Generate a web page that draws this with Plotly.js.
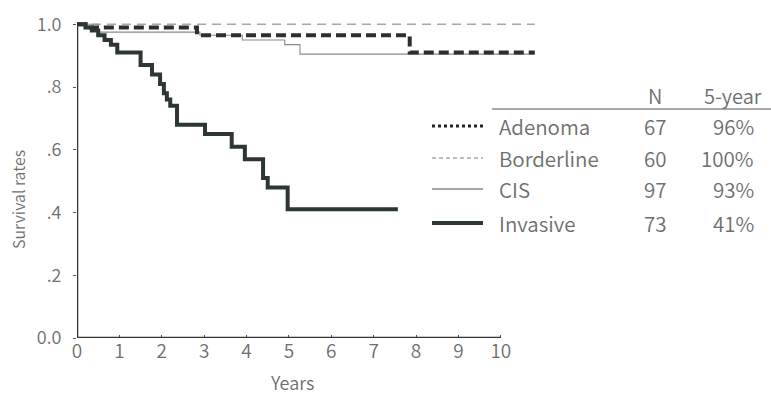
<!DOCTYPE html>
<html>
<head>
<meta charset="utf-8">
<script src="https://cdn.plot.ly/plotly-3.0.1.min.js"></script>
<style>html,body{margin:0;padding:0;background:#fff}#chart{width:771px;height:397px}</style>
</head>
<body>
<div id="chart"></div>
<script>
// ---- data ----
var groups = ["Adenoma", "Borderline", "CIS", "Invasive"];
var groupN = [67, 60, 97, 73];
var fiveYear = ["96%", "100%", "93%", "41%"];

var adenomaX = [0, 0.2, 2.83, 7.85, 10.8];
var adenomaY = [1.0, 0.99, 0.965, 0.91, 0.91];

var borderlineX = [0, 10.8];
var borderlineY = [1.0, 1.0];

var cisX = [0, 0.5, 2.9, 3.9, 4.9, 5.26, 10.8];
var cisY = [1.0, 0.975, 0.965, 0.95, 0.935, 0.905, 0.905];

var invasiveX = [0, 0.2, 0.35, 0.5, 0.65, 0.8, 0.95, 1.5, 1.77, 1.96, 2.05, 2.12, 2.2, 2.36, 3.02, 3.65, 3.96, 4.39, 4.5, 4.97, 7.57];
var invasiveY = [1.0, 0.99, 0.98, 0.965, 0.95, 0.935, 0.91, 0.87, 0.84, 0.81, 0.78, 0.76, 0.74, 0.68, 0.65, 0.61, 0.57, 0.51, 0.48, 0.41, 0.41];

var xTicks = [0, 1, 2, 3, 4, 5, 6, 7, 8, 9, 10];
var yTicks = [0, 0.2, 0.4, 0.6, 0.8, 1.0];
var yTickText = ["0.0", ".2", ".4", ".6", ".8", "1.0"];

// ---- styles ----
var FONT = "Noto Sans CJK JP, Noto Sans, sans-serif";
var TXT = "#6e6e6e";
var W = 350;
var styles = [
  {color: "#2e2e2e", width: 4, dash: "10px,5px"},
  {color: "#a8a8a8", width: 1.3, dash: "9px,6px"},
  {color: "#8a8a8a", width: 1.1, dash: "solid"},
  {color: "#2c3634", width: 4, dash: "solid"}
];
var legendStyles = [
  {color: "#222", width: 3, dash: "3px,3px"},
  {color: "#a8a8a8", width: 1.3, dash: "4px,3px"},
  {color: "#8a8a8a", width: 1.3, dash: "solid"},
  {color: "#2c3634", width: 4, dash: "solid"}
];
var xs = [adenomaX, borderlineX, cisX, invasiveX];
var ys = [adenomaY, borderlineY, cisY, invasiveY];

var traces = [];
[1, 2, 0, 3].forEach(function (i) {
  traces.push({
    x: xs[i], y: ys[i], type: "scatter", mode: "lines",
    line: {shape: "hv", color: styles[i].color, width: styles[i].width, dash: styles[i].dash},
    name: groups[i], hoverinfo: "skip"
  });
});

var L = 77, R = 539, B = 338, T = 18;
function px(x) { return (x - L) / (R - L); }
function py(y) { return (B - y) / (B - T); }

var shapes = [
  {type: "line", xref: "x", yref: "y", x0: 0, x1: 10, y0: 0, y1: 0, line: {color: "#333", width: 2.5}},
  {type: "line", xref: "x", yref: "y", x0: 0, x1: 0, y0: 0, y1: 1.0, line: {color: "#333", width: 2.5}},
  {type: "line", xref: "paper", yref: "paper", x0: px(492), x1: px(771), y0: py(109), y1: py(109), line: {color: "#555", width: 1}}
];
var rowY = [126, 158, 189, 223];
var annotations = [
  {text: "N", x: px(655), y: py(95), size: 20},
  {text: "5-year", x: px(733), y: py(95), size: 20},
  {text: "Years", x: px(292), y: py(382), size: 18},
  {text: "Survival rates", x: px(18), y: py(200), textangle: -90, size: 16}
];
groups.forEach(function (g, i) {
  shapes.push({type: "line", xref: "paper", yref: "paper", x0: px(432), x1: px(483), y0: py(rowY[i]), y1: py(rowY[i]),
    line: {color: legendStyles[i].color, width: legendStyles[i].width, dash: legendStyles[i].dash}});
  annotations.push({text: g, x: px(497), y: py(rowY[i]), xanchor: "left", size: 20.5});
  annotations.push({text: String(groupN[i]), x: px(655), y: py(rowY[i]), size: 20.5});
  annotations.push({text: fiveYear[i], x: px(756), y: py(rowY[i]), xanchor: "right", size: 20.5});
});
annotations.forEach(function (a) {
  a.xref = "paper"; a.yref = "paper"; a.showarrow = false;
  if (!a.xanchor) a.xanchor = "center";
  a.yanchor = "middle";
  a.font = {family: FONT, size: a.size, color: TXT, weight: W};
  delete a.size;
});

var layout = {
  width: 771, height: 397,
  margin: {l: L, r: 771 - R, t: T, b: 397 - B, pad: 0},
  paper_bgcolor: "#fff", plot_bgcolor: "#fff",
  showlegend: false,
  font: {family: FONT, color: TXT, size: 15},
  xaxis: {
    range: [0, 10.9], tickvals: xTicks, ticktext: xTicks.map(String),
    showline: false, showgrid: false, zeroline: false,
    ticks: "inside", ticklen: 3, tickcolor: "#555", tickwidth: 1,
    tickfont: {family: FONT, size: 19, color: TXT, weight: W}, ticklabelstandoff: 0
  },
  yaxis: {
    range: [0, 1.02], tickvals: yTicks, ticktext: yTickText,
    showline: false, showgrid: false, zeroline: false,
    ticks: "outside", ticklen: 3, tickcolor: "#555", tickwidth: 1,
    tickfont: {family: FONT, size: 18, color: TXT, weight: W}, ticklabelstandoff: 8
  },
  shapes: shapes,
  annotations: annotations
};

Plotly.newPlot("chart", traces, layout, {staticPlot: true, displayModeBar: false});
</script>
</body>
</html>
